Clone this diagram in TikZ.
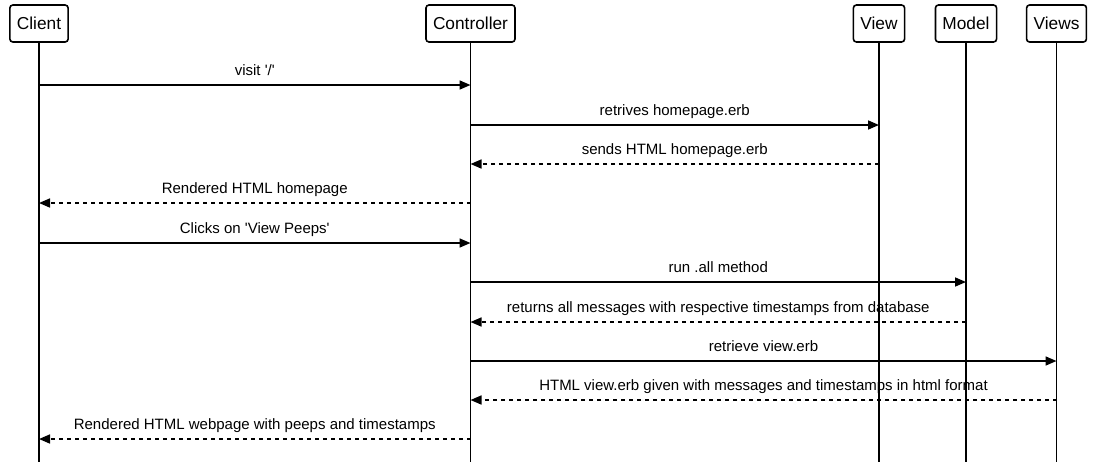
\documentclass[tikz,border=0pt]{standalone}
\usepackage{fontspec}
\setmainfont{Liberation Sans}
\usetikzlibrary{arrows.meta}
\newcommand{\lifeend}{462}
\newcommand{\heady}{23.5}
\newcommand{\labelraise}{10}
% one message: from, to, y, text, style
\newcommand{\seqmsg}[5]{
  \coordinate (m#3a) at (#1 |- 0,#3);
  \coordinate (m#3b) at (#2 |- 0,#3);
  \draw[#5] (m#3a) -- (m#3b);
  \node[msglabel] (l#3) at ($ (m#3a)!0.5!(m#3b) + (0,-\labelraise) $) {#4};
}
\newcommand{\sq}{\textquotesingle}
\usetikzlibrary{calc}

\begin{document}
\begin{tikzpicture}[x=1pt,y=-1pt,
    head/.style={draw,line width=1.6pt,rounded corners=3pt,
      minimum height=37pt,inner xsep=7pt,font=\fontsize{17.3}{20}\selectfont},
    life/.style={line width=1.6pt},
    msglabel/.style={anchor=base,inner sep=0pt,font=\fontsize{15}{18}\selectfont},
    call/.style={line width=1.6pt,-{Triangle[length=11pt,width=9pt]}},
    reply/.style={call,dash pattern=on 4pt off 4pt}]
    \useasboundingbox (0,0) rectangle (1094,472);
    % heads
    \node[head] (client) at (39,\heady) {Client};
    \node[head] (ctrl) at (470.5,\heady) {Controller};
    \node[head] (view) at (879,\heady) {View};
    \node[head] (model) at (966,\heady) {Model};
    \node[head] (views) at (1056.5,\heady) {Views};
    % lifelines
    \foreach \p in {client,ctrl,view,model,views}{
      \coordinate (\p end) at (\p |- 0,\lifeend);
      \draw[life] (\p.south) -- (\p end);
    }
    % messages
    \seqmsg{client}{ctrl}{85}{visit \sq/\sq}{call}
    \seqmsg{ctrl}{view}{125}{retrives homepage.erb}{call}
    \seqmsg{view}{ctrl}{164}{sends HTML homepage.erb}{reply}
    \seqmsg{ctrl}{client}{203}{Rendered HTML homepage}{reply}
    \seqmsg{client}{ctrl}{243}{Clicks on \sq View Peeps\sq}{call}
    \seqmsg{ctrl}{model}{282}{run .all method}{call}
    \seqmsg{model}{ctrl}{322}{returns all messages with respective timestamps from database}{reply}
    \seqmsg{ctrl}{views}{361}{retrieve view.erb}{call}
    \seqmsg{views}{ctrl}{400}{HTML view.erb given with messages and timestamps in html format}{reply}
    \seqmsg{ctrl}{client}{439}{Rendered HTML webpage with peeps and timestamps}{reply}
  \end{tikzpicture}
\end{document}
